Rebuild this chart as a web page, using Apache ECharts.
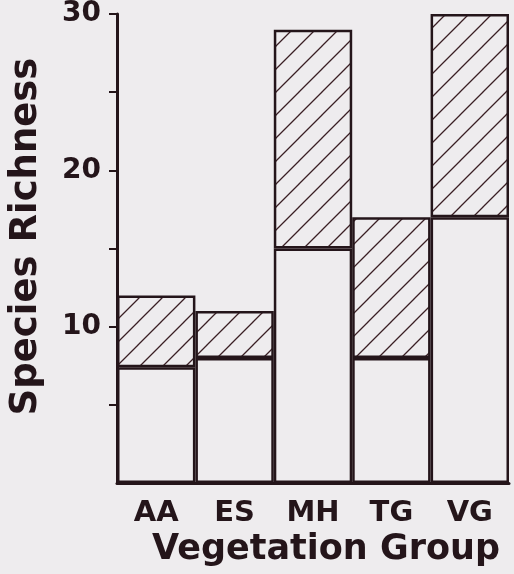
<!DOCTYPE html>
<html>
<head>
<meta charset="utf-8">
<script src="https://cdn.jsdelivr.net/npm/echarts@6/dist/echarts.min.js"></script>
<style>
html,body{margin:0;padding:0;background:#eeecee;}
#chart{width:514px;height:574px;}
</style>
</head>
<body>
<div id="chart"></div>
<script>
const categories = ['AA', 'ES', 'MH', 'TG', 'VG'];
const openValues = [7.4, 8, 15, 8, 17];
const hatchedValues = [4.6, 3, 14, 9, 13];
const yTickValues = [5, 10, 15, 20, 25, 30];
const yLabelValues = [10, 20, 30];

const ink = '#24151a';
const bg = '#eeecee';

function hatchPattern() {
  const s = 23;
  const c = document.createElement('canvas');
  c.width = s; c.height = s;
  const g = c.getContext('2d');
  g.fillStyle = bg;
  g.fillRect(0, 0, s, s);
  g.strokeStyle = '#3a1f24';
  g.lineWidth = 1.3;
  g.beginPath();
  g.moveTo(-2, s + 2); g.lineTo(s + 2, -2);
  g.moveTo(-2, 2); g.lineTo(2, -2);
  g.moveTo(s - 2, s + 2); g.lineTo(s + 2, s - 2);
  g.stroke();
  return c;
}

const chart = echarts.init(document.getElementById('chart'), null, {renderer: 'canvas'});
chart.setOption({
  backgroundColor: bg,
  animation: false,
  grid: {left: 116, right: 5, top: 14, bottom: 91, containLabel: false},
  xAxis: {
    type: 'category',
    data: categories,
    name: 'Vegetation Group',
    nameLocation: 'middle',
    nameGap: 48,
    nameTextStyle: {fontFamily: 'DejaVu Sans', fontWeight: 'bold', fontSize: 35, color: ink, padding: [0, 0, 0, 26]},
    axisLine: {show: true, lineStyle: {color: ink, width: 3}},
    axisTick: {show: false},
    axisLabel: {fontFamily: 'DejaVu Sans', fontWeight: 'bold', fontSize: 29, color: ink, margin: 16}
  },
  yAxis: {
    type: 'value',
    min: 0, max: 30, interval: 5,
    name: 'Species Richness',
    nameLocation: 'middle',
    nameRotate: 90,
    nameGap: 72,
    nameTextStyle: {fontFamily: 'DejaVu Sans', fontWeight: 'bold', fontSize: 37, color: ink, padding: [0, 0, 0, 24]},
    splitLine: {show: false},
    axisLine: {show: true, lineStyle: {color: ink, width: 3}},
    axisTick: {show: true, length: 8, lineStyle: {color: ink, width: 2}, customValues: yTickValues},
    axisLabel: {fontFamily: 'DejaVu Sans', fontWeight: 'bold', fontSize: 28, color: ink, margin: 16, padding: [6, 0, 0, 0], customValues: yLabelValues}
  },
  series: [
    {
      type: 'bar', stack: 'rich', data: openValues,
      barWidth: '100%', barCategoryGap: '0%',
      itemStyle: {color: bg, borderColor: ink, borderWidth: 2.5}
    },
    {
      type: 'bar', stack: 'rich', data: hatchedValues,
      barWidth: '100%', barCategoryGap: '0%',
      itemStyle: {color: {image: hatchPattern(), repeat: 'repeat'}, borderColor: ink, borderWidth: 2.5}
    }
  ]
});
</script>
</body>
</html>
